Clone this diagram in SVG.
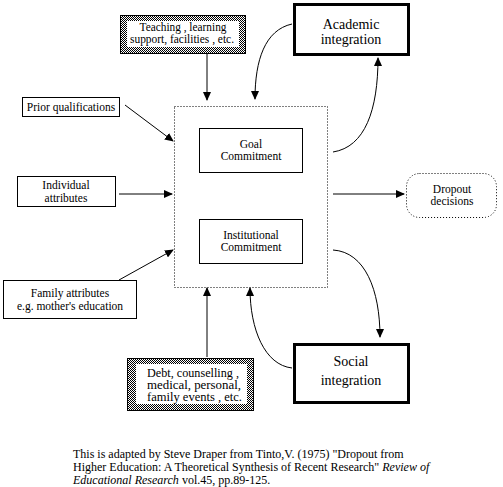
<svg xmlns="http://www.w3.org/2000/svg" width="503" height="487" viewBox="0 0 503 487">
<style>
text{font-family:"Liberation Serif","DejaVu Serif",serif;fill:#000;text-anchor:middle}
.s{font-size:11.5px}
.h{font-size:11.5px}
.b{font-size:14px}
.f{font-size:12px;text-anchor:start}
.box{fill:#fff;stroke:#000;stroke-width:1}
.thick{fill:#fff;stroke:#000;stroke-width:3}
.dot{fill:none;stroke:#000;stroke-width:1;stroke-dasharray:1 2}
.c{fill:none;stroke:#000;stroke-width:1}
</style>
<defs>
<pattern id="hatch" width="2" height="2" patternUnits="userSpaceOnUse">
<rect width="2" height="2" fill="#fff"/>
<rect width="1" height="1" fill="#000"/>
<rect x="1" y="1" width="1" height="1" fill="#000"/>
</pattern>
<marker id="ah" markerWidth="9" markerHeight="8" refX="8" refY="4" orient="auto" markerUnits="userSpaceOnUse">
<path d="M0,0 L9,4 L0,8 z" fill="#000"/>
</marker>
</defs>
<g font-family="Liberation Serif, DejaVu Serif, serif">
<g id="connectors">
<path class="c" d="M207,53 L207,100" marker-end="url(#ah)"/>
<path class="c" d="M292,24 C265,30 255,60 255,99" marker-end="url(#ah)"/>
<path class="c" d="M333,152 C365,147 378,110 378,58" marker-end="url(#ah)"/>
<path class="c" d="M125,105 L173,141" marker-end="url(#ah)"/>
<path class="c" d="M119,194 L172,194" marker-end="url(#ah)"/>
<path class="c" d="M119,280 L173,250" marker-end="url(#ah)"/>
<path class="c" d="M207,357 L207,288" marker-end="url(#ah)"/>
<path class="c" d="M292,368 C265,365 250,330 250,288" marker-end="url(#ah)"/>
<path class="c" d="M333,250 C365,252 380,290 380,337" marker-end="url(#ah)"/>
<path class="c" d="M333,194 L404,194" marker-end="url(#ah)"/>
</g>
<g id="teaching">
<rect x="120.5" y="15.5" width="125" height="38" fill="url(#hatch)" stroke="#000"/>
<rect x="127" y="21" width="112" height="26" fill="#fff"/>
<text class="h" x="183" y="31" textLength="87" lengthAdjust="spacingAndGlyphs">Teaching , learning</text>
<text class="h" x="182" y="43" textLength="104" lengthAdjust="spacingAndGlyphs">support, facilities , etc.</text>
</g>
<g id="academic">
<rect class="thick" x="294.5" y="4.5" width="114" height="50"/>
<text class="b" x="351" y="29">Academic</text>
<text class="b" x="351" y="44">integration</text>
</g>
<g id="prior">
<rect class="box" x="22.5" y="97.5" width="97" height="19"/>
<text class="s" x="71" y="111">Prior qualifications</text>
</g>
<g id="individual">
<rect class="box" x="17.5" y="176.5" width="98" height="30"/>
<text class="s" x="66" y="189">Individual</text>
<text class="s" x="66" y="202">attributes</text>
</g>
<g id="family">
<rect class="box" x="3.5" y="280.5" width="133" height="38"/>
<text class="s" x="70" y="297">Family attributes</text>
<text class="s" x="70" y="310">e.g. mother's education</text>
</g>
<g id="main">
<rect class="dot" x="174.5" y="106.5" width="153" height="181"/>
</g>
<g id="goal">
<rect class="box" x="199.5" y="128.5" width="103" height="44"/>
<text class="s" x="251" y="148">Goal</text>
<text class="s" x="251" y="160">Commitment</text>
</g>
<g id="institutional">
<rect class="box" x="199.5" y="219.5" width="103" height="44"/>
<text class="s" x="251" y="239">Institutional</text>
<text class="s" x="251" y="251">Commitment</text>
</g>
<g id="dropout">
<rect class="dot" x="406.5" y="173.5" width="90" height="44" rx="13"/>
<text class="s" x="452" y="193">Dropout</text>
<text class="s" x="452" y="205">decisions</text>
</g>
<g id="debt">
<rect x="127.5" y="358.5" width="126" height="52" fill="url(#hatch)" stroke="#000"/>
<rect x="136" y="364" width="111" height="40" fill="#fff"/>
<text class="h" x="147" y="377" style="text-anchor:start" textLength="92" lengthAdjust="spacingAndGlyphs">Debt, counselling ,</text>
<text class="h" x="147" y="389" style="text-anchor:start" textLength="94" lengthAdjust="spacingAndGlyphs">medical, personal,</text>
<text class="h" x="147" y="401" style="text-anchor:start" textLength="95" lengthAdjust="spacingAndGlyphs">family events , etc.</text>
</g>
<g id="social">
<rect class="thick" x="294.5" y="344.5" width="114" height="58"/>
<text class="b" x="351" y="366">Social</text>
<text class="b" x="351" y="385">integration</text>
</g>
<g id="footer">
<text class="f" x="73" y="458">This is adapted by Steve Draper from Tinto,V. (1975) "Dropout from</text>
<text class="f" x="73" y="471">Higher Education: A Theoretical Synthesis of Recent Research" <tspan font-style="italic">Review of</tspan></text>
<text class="f" x="73" y="484"><tspan font-style="italic">Educational Research</tspan> vol.45, pp.89-125.</text>
</g>
</g>
</svg>
